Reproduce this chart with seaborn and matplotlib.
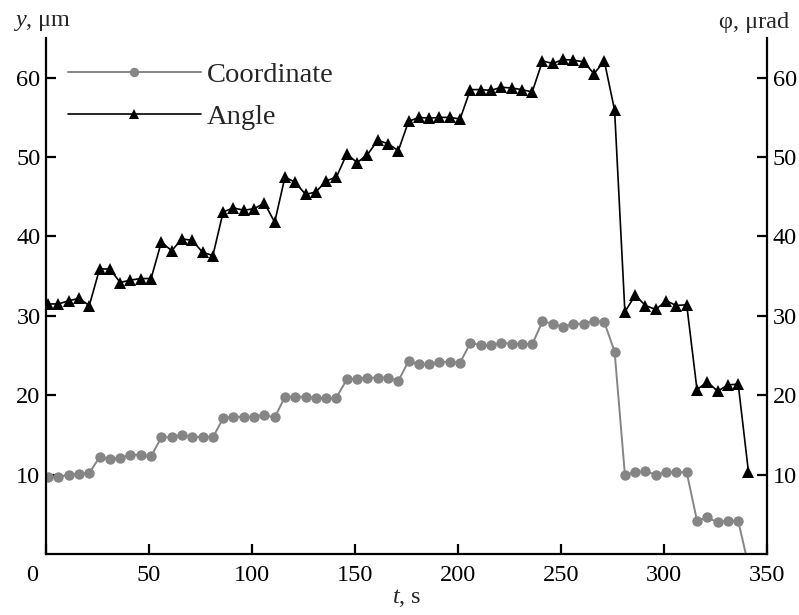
import numpy as np
import pandas as pd
import matplotlib
matplotlib.use("Agg")
import matplotlib.pyplot as plt
import matplotlib.transforms as mtransforms
import seaborn as sns

# ---- data ----
time_s = list(range(1, 342, 5))  # 69 samples, every 5 s

coordinate_um = [
    9.7, 9.7, 10.0, 10.1, 10.2,
    12.2, 12.0, 12.1, 12.5, 12.5, 12.3,
    14.7, 14.7, 15.0, 14.7, 14.8, 14.7,
    17.1, 17.3, 17.3, 17.3, 17.5, 17.2,
    19.8, 19.8, 19.8, 19.6, 19.6, 19.7,
    22.0, 22.1, 22.2, 22.2, 22.2, 21.8,
    24.3, 23.9, 23.9, 24.2, 24.2, 24.1,
    26.6, 26.3, 26.3, 26.6, 26.5, 26.5, 26.4,
    29.3, 29.0, 28.6, 29.0, 29.0, 29.4, 29.2,
    25.5,
    10.0, 10.3, 10.4, 10.0, 10.3, 10.3, 10.3,
    4.2, 4.6, 4.0, 4.2, 4.2,
    -1.5,
]

angle_urad = [
    31.5, 31.5, 31.9, 32.2, 31.3,
    35.9, 35.9, 34.2, 34.5, 34.7, 34.7,
    39.3, 38.2, 39.7, 39.5, 38.0, 37.6,
    43.1, 43.6, 43.3, 43.5, 44.2, 41.8,
    47.5, 46.8, 45.3, 45.6, 47.0, 47.5,
    50.4, 49.3, 50.3, 52.1, 51.7, 50.8,
    54.5, 55.0, 54.9, 55.0, 55.0, 54.8,
    58.5, 58.5, 58.4, 58.8, 58.7, 58.5, 58.2,
    62.1, 61.8, 62.3, 62.2, 62.0, 60.5, 62.1,
    55.9,
    30.5, 32.6, 31.3, 30.8, 31.9, 31.3, 31.4,
    20.7, 21.7, 20.5, 21.3, 21.4,
    10.3,
]

series_names = ["Coordinate", "Angle"]
x_ticks = [0, 50, 100, 150, 200, 250, 300, 350]
y_ticks = [10, 20, 30, 40, 50, 60]

df = pd.DataFrame({"t": time_s, "Coordinate": coordinate_um, "Angle": angle_urad})

# ---- style ----
sns.set_style("ticks")
plt.rcParams["font.family"] = ["Liberation Serif", "DejaVu Serif"]
plt.rcParams["mathtext.fontset"] = "custom"
plt.rcParams["mathtext.rm"] = "Liberation Serif"
plt.rcParams["mathtext.it"] = "Liberation Serif:italic"
plt.rcParams["font.size"] = 17.5

FS = 17.5
fig = plt.figure(figsize=(7.99, 6.15), dpi=100)
ax = fig.add_axes([0.0576, 0.0992, 0.9024, 0.8390])

sns.lineplot(data=df, x="t", y="Coordinate", ax=ax, color="#858585",
             marker="o", markersize=7.5, markeredgewidth=0, linewidth=1.4,
             label=series_names[0])
sns.lineplot(data=df, x="t", y="Angle", ax=ax, color="black",
             marker="^", markersize=8.5, markeredgewidth=0, linewidth=1.2,
             label=series_names[1])

ax.set_xlim(0, 350)
ax.set_ylim(0, 65)
ax.set_xticks(x_ticks)
ax.set_yticks(y_ticks)
ax.set_xlabel(r"$\it{t}$, s", fontsize=FS, labelpad=1)
ax.set_ylabel("")

for side in ["left", "bottom", "right"]:
    ax.spines[side].set_visible(True)
    ax.spines[side].set_linewidth(1.6)
    ax.spines[side].set_color("black")
ax.spines["top"].set_visible(False)

ax.tick_params(axis="both", direction="in", length=7, width=1.6,
               labelsize=FS, colors="black")
ax.tick_params(axis="y", left=True, right=True, labelleft=True, labelright=True, pad=4)
ax.tick_params(axis="x", pad=8)

# shift the "0" origin label a little to the left like the reference
lbl0 = ax.get_xticklabels()[0]
lbl0.set_transform(lbl0.get_transform() +
                   mtransforms.ScaledTranslation(-14 / 100, 0, fig.dpi_scale_trans))

fig.text(13 / 799, 1 - 12 / 615, r"$\it{y}$, μm", fontsize=FS, ha="left", va="top")
fig.text(789 / 799, 1 - 12 / 615, "φ, μrad", fontsize=FS, ha="right", va="top")

leg = ax.legend(loc="upper left", frameon=False, handlelength=4.7,
                handletextpad=0.2, labelspacing=0.55, fontsize=20.5,
                bbox_to_anchor=(0.014, 0.975), borderaxespad=0.0,
                markerscale=0.9)

fig.savefig("out.png", dpi=100)
